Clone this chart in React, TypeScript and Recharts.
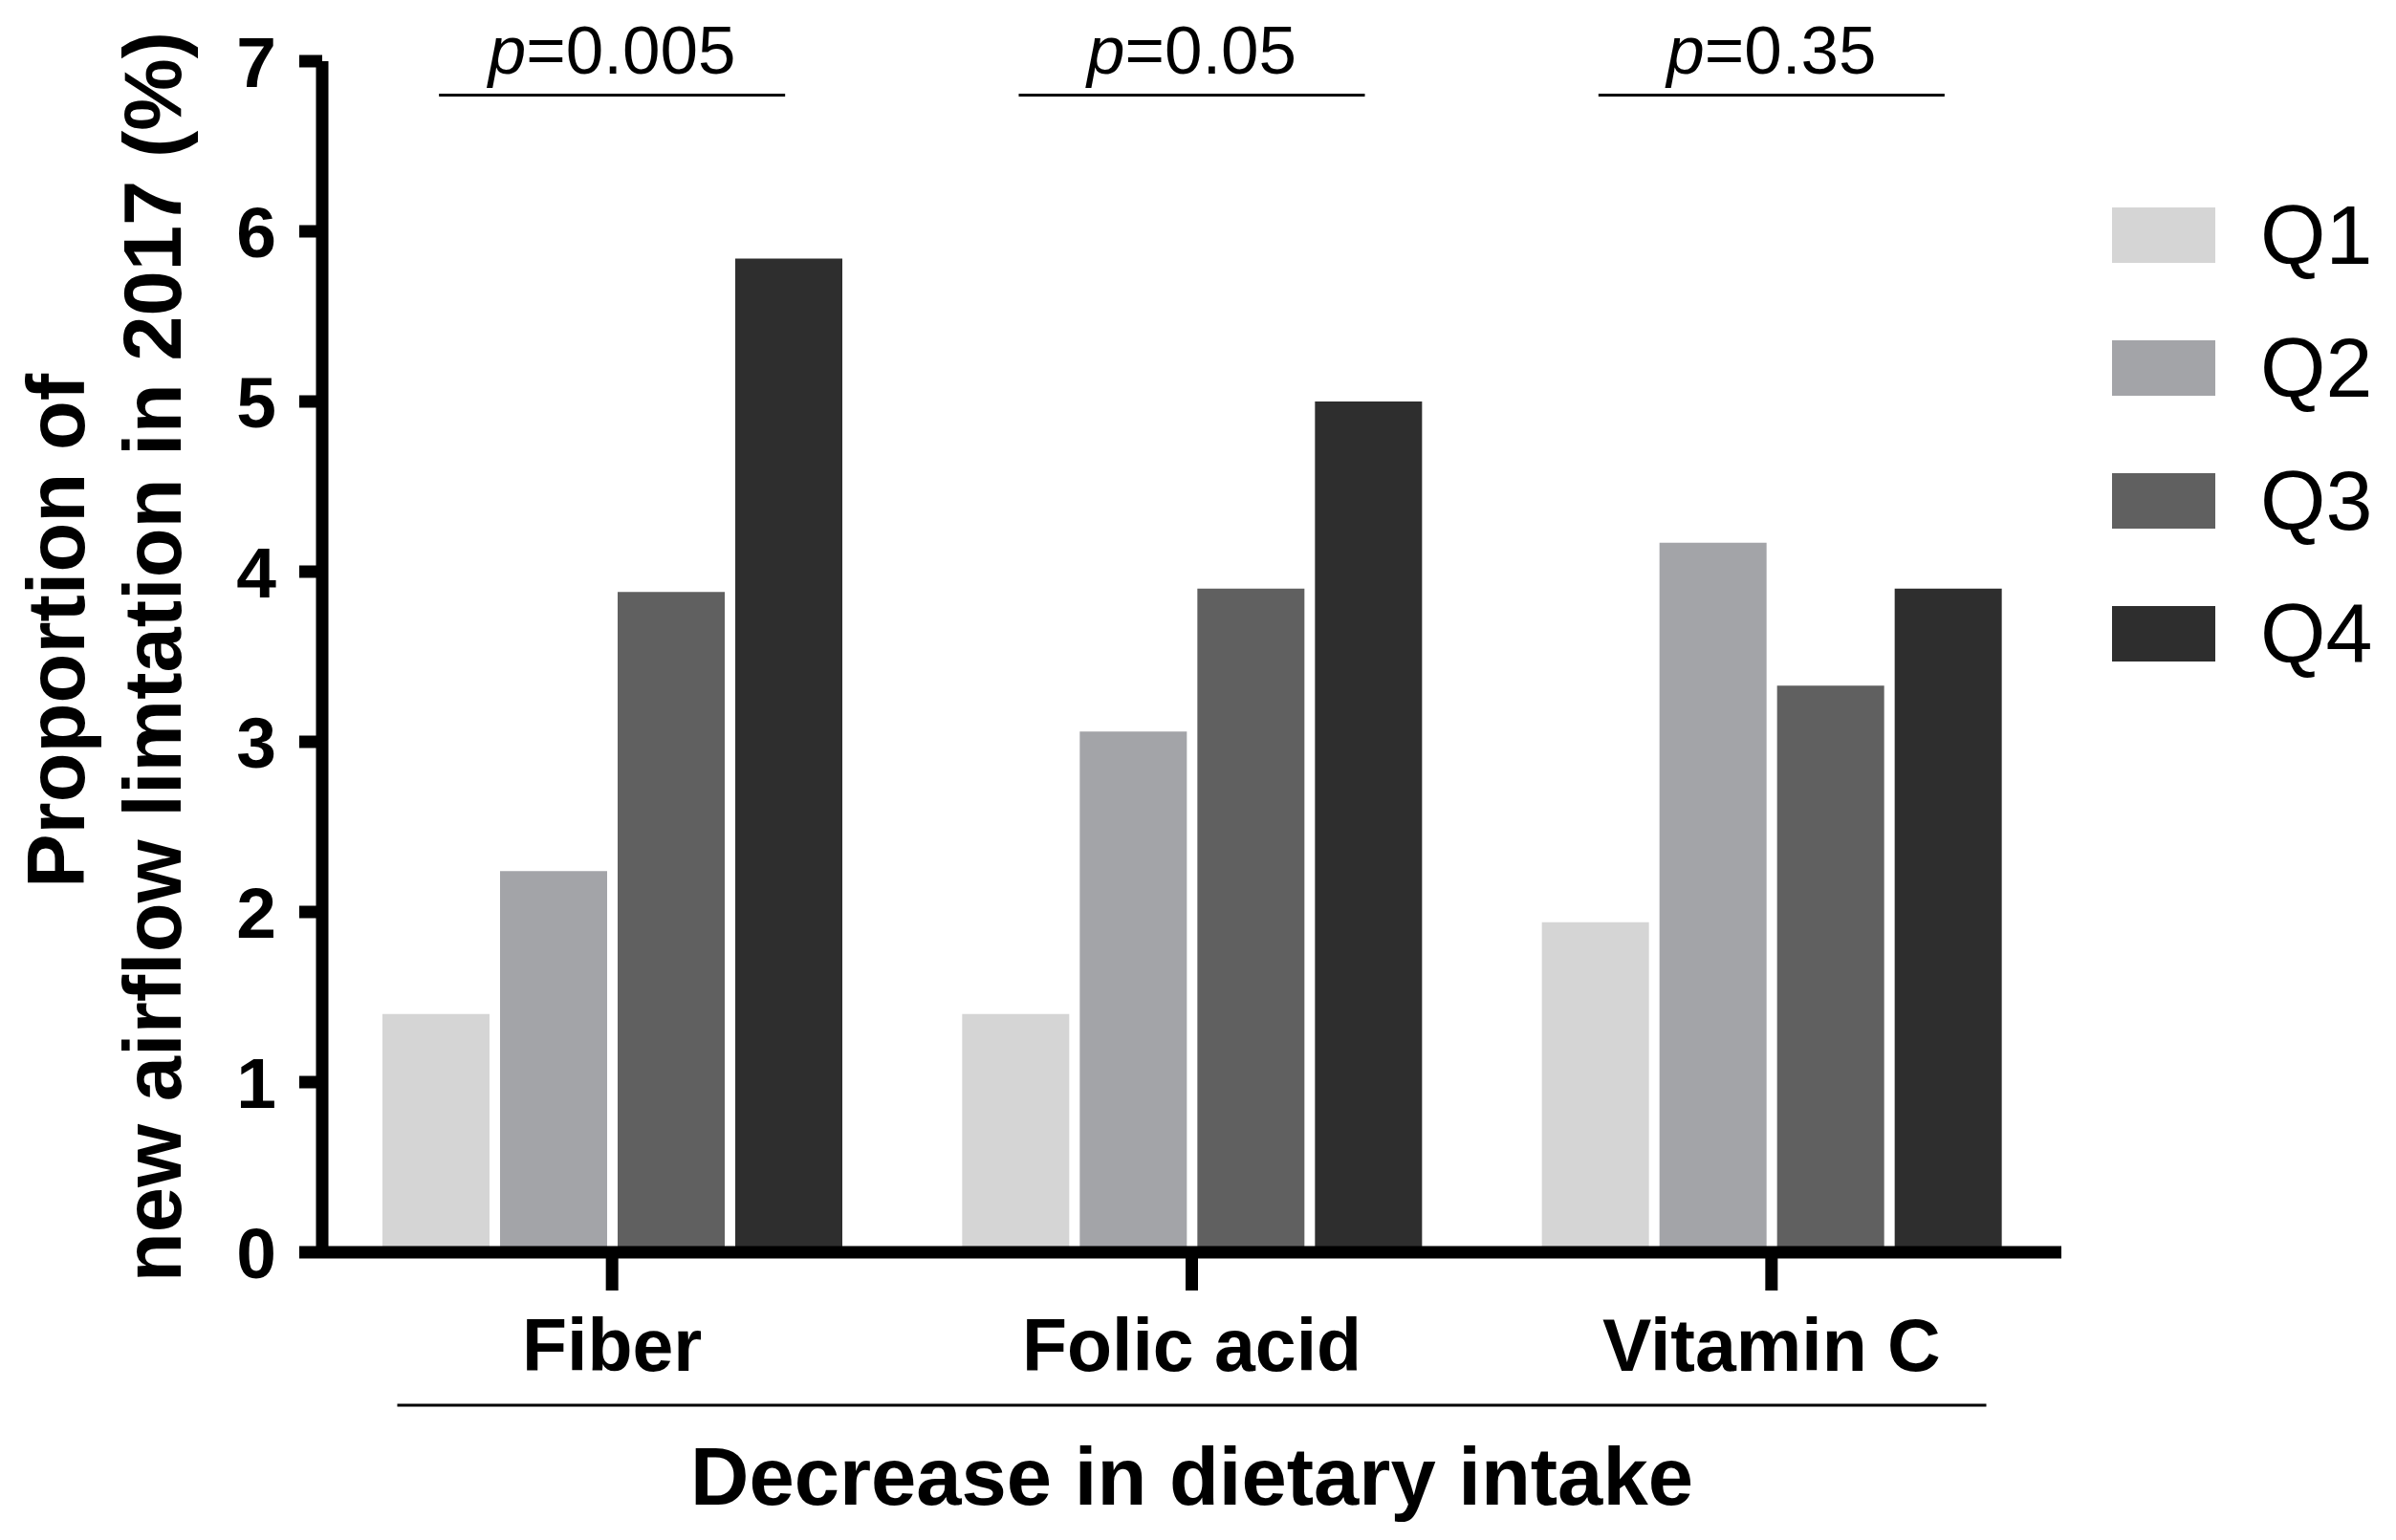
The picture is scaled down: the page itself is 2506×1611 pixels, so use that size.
import React from 'react';
import { BarChart, Bar, XAxis, YAxis, Legend, ReferenceDot } from 'recharts';

const categories = ['Fiber', 'Folic acid', 'Vitamin C'];
const q1 = [1.4, 1.4, 1.94];
const q2 = [2.24, 3.06, 4.17];
const q3 = [3.88, 3.9, 3.33];
const q4 = [5.84, 5.0, 3.9];
const seriesNames = ['Q1', 'Q2', 'Q3', 'Q4'];
const pValues = ['0.005', '0.05', '0.35'];
const yTicks = [0, 1, 2, 3, 4, 5, 6, 7];
const pLineLevel = 6.8;

const COLORS = ['#d5d5d5', '#a3a4a8', '#606060', '#2e2e2e'];
const FONT = "'Liberation Sans', Arial, Helvetica, sans-serif";

const seriesValues = [q1, q2, q3, q4];
const data = categories.map((name, i) => {
  const row: Record<string, string | number> = { name };
  seriesNames.forEach((s, k) => (row[s] = seriesValues[k][i]));
  return row;
});

const CategoryTick = ({ x, y, payload }: any) => (
  <text x={x} y={y} dy={84} textAnchor="middle" fontFamily={FONT} fontWeight="bold" fontSize={77} fill="#000">
    {payload.value}
  </text>
);

const XTitle = ({ viewBox }: any) => {
  const vb = viewBox || { x: 337, y: 1310, width: 1819 };
  const cx = vb.x + vb.width / 2;
  return (
    <g>
      <line x1={cx - 831} x2={cx + 831} y1={vb.y + 160} y2={vb.y + 160} stroke="#000" strokeWidth={3} />
      <text x={cx} y={vb.y + 264} textAnchor="middle" fontFamily={FONT} fontWeight="bold" fontSize={85} fill="#000">
        Decrease in dietary intake
      </text>
    </g>
  );
};

const YTitle = () => (
  <g fontFamily={FONT} fontWeight="bold" fontSize={85} fill="#000">
    <text transform="translate(88,660) rotate(-90)" textAnchor="middle">Proportion of</text>
    <text transform="translate(189,687) rotate(-90)" textAnchor="middle">new airflow limtation in 2017 (%)</text>
  </g>
);

const PMark = ({ cx, cy, label }: any) => (
  <g>
    <line x1={cx - 181} x2={cx + 181} y1={cy} y2={cy} stroke="#000" strokeWidth={3} />
    <text x={cx} y={cy - 23} textAnchor="middle" fontFamily={FONT} fontSize={71} fill="#000">
      <tspan fontStyle="italic">p</tspan>={label}
    </text>
  </g>
);

const LegendBox = ({ payload }: any) => (
  <div>
    {(payload || []).map((entry: any) => (
      <div key={entry.value} style={{ display: 'flex', alignItems: 'center', height: 139 }}>
        <div style={{ width: 108, height: 58, background: entry.color }} />
        <span style={{ marginLeft: 47, fontSize: 88, fontFamily: FONT, lineHeight: 1, color: '#000' }}>
          {entry.value}
        </span>
      </div>
    ))}
  </div>
);

export default function App() {
  return (
    <div style={{ position: 'absolute', left: 0, top: 0, width: 2506, height: 1611, background: '#fff' }}>
      <BarChart
        width={2506}
        height={1611}
        data={data}
        margin={{ top: 64, right: 350, bottom: 141, left: 217 }}
        barCategoryGap={63}
        barGap={11}
      >
        <XAxis
          dataKey="name"
          height={160}
          interval={0}
          tickSize={40}
          tickMargin={0}
          axisLine={{ stroke: '#000', strokeWidth: 13 }}
          tickLine={{ stroke: '#000', strokeWidth: 13 }}
          tick={<CategoryTick />}
          label={{ content: (p: any) => <XTitle {...p} /> }}
        />
        <YAxis
          width={120}
          domain={[0, 7]}
          ticks={yTicks}
          interval={0}
          tickSize={24}
          tickMargin={24}
          axisLine={{ stroke: '#000', strokeWidth: 13 }}
          tickLine={{ stroke: '#000', strokeWidth: 13 }}
          tick={{ fontSize: 75, fontWeight: 'bold', fill: '#000', fontFamily: FONT }}
          label={{ content: () => <YTitle /> }}
        />
        <Legend
          layout="vertical"
          align="center"
          verticalAlign="middle"
          content={<LegendBox />}
          wrapperStyle={{ left: 2209, top: 176, width: 297 }}
        />
        {seriesNames.map((s, k) => (
          <Bar key={s} dataKey={s} fill={COLORS[k]} isAnimationActive={false} />
        ))}
        {categories.map((c, i) => (
          <ReferenceDot
            key={c}
            x={c}
            y={pLineLevel}
            r={0}
            ifOverflow="visible"
            shape={(p: any) => <PMark cx={p.cx} cy={p.cy} label={pValues[i]} />}
          />
        ))}
      </BarChart>
    </div>
  );
}
